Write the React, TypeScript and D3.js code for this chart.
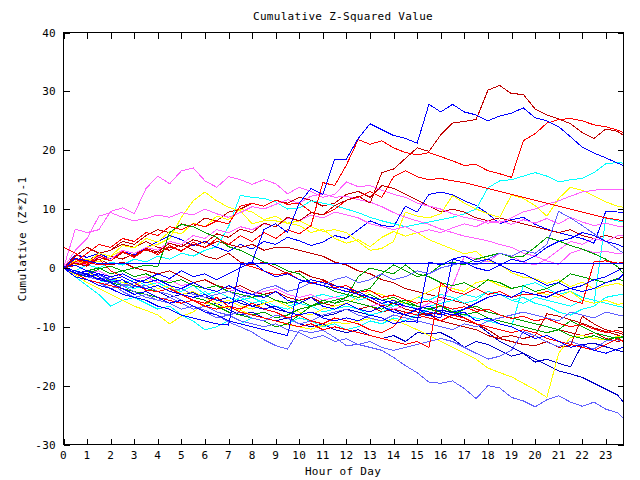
import React from "react";
import * as d3 from "d3";

const HOURS = [
  0, 0.5, 1, 1.5, 2, 2.5, 3, 3.5,
  4, 4.5, 5, 5.5, 6, 6.5, 7, 7.5,
  8, 8.5, 9, 9.5, 10, 10.5, 11, 11.5,
  12, 12.5, 13, 13.5, 14, 14.5, 15, 15.5,
  16, 16.5, 17, 17.5, 18, 18.5, 19, 19.5,
  20, 20.5, 21, 21.5, 22, 22.5, 23, 23.5,
  23.75,
];
const X_TICKS = d3.range(0, 24);
const Y_TICKS = [-30, -20, -10, 0, 10, 20, 30, 40];

const TITLE = "Cumulative Z-Squared Value";
const X_LABEL = "Hour of Day";
const Y_LABEL = "Cumulative (Z*Z)-1";

const S_CY2 = [0, -1, -2, -2.5, -2, -3, -3.5, -3, -4, -3.5, -4.5, -5, -4, -5.5, -6, -5, -6, -5.5, -6.5, -7, -6, -6.5, -7.5, -7, -6.5, -7, -8, -7.5, -6.5, -6, -5, -5.5, -4.5, -5, -6, -5.5, -4, -4.5, -5.5, -5, -6, -6.5, -7.5, -8, -7, -6.5, -5, -4.6, -4.5];
const S_CY3 = [0, -1.5, -3, -4.5, -6.5, -5.5, -5, -6, -7, -6.5, -8, -9, -10.5, -10, -9, -9.5, -8.5, -9, -10, -9.5, -8.5, -9, -10, -9.5, -10.5, -10, -9, -9.5, -8.5, -9, -8, -7, -6.5, -7, -8, -8.5, -9, -9.5, -10, -3, -2.5, -3.5, -4.5, -4, -5, -5.5, -6, -6.5, -6.7];
const S_CY4 = [0, -0.5, -1.5, -1, -2, -2.5, -2, -3, -2.5, -3.5, -4, -3, -4.5, -4, -5, -5.5, -5, -6, -5.5, -6.5, -6, -5, -4.5, -5, -4.5, -5.5, -5, -6, -6.5, -6, -7, -6.5, -6, -5.5, -4.5, -5, -4, -4.5, -5.5, -6, -5, -5.5, -6, -6.5, -5.5, -6, 8.5, 8, 7.8];
const S_CY1 = [0, -0.5, 0.5, 0, 1, 0.5, 1.5, 1, 2, 1.5, 2.5, 2, 3, 3.6, 7, 12.3, 12, 11.8, 11.2, 10, 10.2, 11.4, 11, 10.6, 10, 9.4, 8.6, 8, 7.5, 7, 7.4, 7.8, 8.2, 8.6, 9.2, 10, 13.6, 14.8, 15, 15.6, 16.2, 15.6, 14.6, 15, 15.2, 16.2, 17.7, 17.9, 17.8];
const S_Y1 = [0, 0.5, 1.5, 1, 2, 3, 2.5, 3.5, 4, 5, 8.6, 11.4, 12.9, 11.4, 10.3, 9.7, 7.5, 8, 8, 7.6, 8, 7, 6.2, 6.5, 6, 4.5, 3, 3.3, 4.5, 9.5, 8.8, 8.5, 9.2, 12.3, 11, 10, 9.2, 8.6, 12.4, 11.8, 10.6, 8.8, 11.8, 13.7, 13.2, 12.2, 11.2, 10.5, 10.3];
const S_Y2 = [0, 1.2, 0.8, 2.5, 2, 3.8, 3.4, 5, 4.4, 6.2, 5.8, 7.6, 7, 8.8, 8.2, 10, 9.5, 8.2, 8.8, 7.6, 7.2, 6, 6.6, 5, 4.2, 4.8, 3.6, 5.2, 6.2, 5.4, 6, 4.8, 4, 3.2, 2.4, 2.8, 1.2, 0.6, -0.8, -1.6, -1.8, -2.6, -2, -3.2, -2.4, -3.6, -3, -2.6, -3];
const S_Y4 = [0, -1, -0.5, -2, -1.5, -2.5, -3, -2, -3.5, -3, -4.5, -4, -5, -6, -5.5, -6.5, -7, -6, -5.5, -6.5, -7.5, -8, -7, -6.5, -6, -5, -4, -4.5, -5.5, -6, -5, -4, -3, -3.5, -4, -2.5, -2, -3, -3.5, -3, -4, -4.5, -5, -4, -5.5, -6, -5.5, -6.2, -6];
const S_L3 = [0, -1.2, -2.5, -3.5, -4.5, -5.5, -6.5, -7.2, -8, -9.5, -8.2, -7.5, -6, -6.4, -6.8, -7.2, -8, -8.5, -9, -9.6, -10, -10.4, -9.8, -9.2, -9.5, -9, -8.6, -9, -8.8, -9.6, -10.5, -11.5, -12.5, -13.5, -14.5, -15.5, -17, -17.8, -18.5, -19.6, -20.7, -22, -14.5, -11.8, -11.5, -12, -12.2, -11.6, -11.8];
const S_P1 = [0, 6.6, 6, 6.5, 9.6, 10.2, 9.2, 13.5, 15.6, 14.3, 16.5, 17, 14.8, 13.7, 15.5, 15, 14.2, 15, 14.3, 12.6, 13.7, 13, 12, 12.5, 14.6, 13.8, 14, 13.2, 12.5, 12, 11, 10.5, 10, 9.2, 8.6, 8.2, 7.6, 8, 7.4, 8.2, 7.6, 8.4, 7.5, 8.6, 7.8, 7.2, 7.6, 7.1, 7];
const S_P2 = [0, 1, 0.5, 2, 1.5, 3, 2.5, 3.5, 3, 4.5, 4, 5.5, 5, 6.5, 6, 7, 6.5, 7.5, 7, 8.5, 8, 9, 8.5, 9.5, 9, 8.5, 7.5, 7, 6.5, 7, 6, 6.5, 6, 6.8, 7.5, 7, 8, 7.6, 8.5, 9.5, 10, 10.8, 11.4, 12.2, 12.9, 13.2, 13.4, 13.4, 13.4];
const S_P3 = [0, 3, 5, 8.8, 9.4, 8.6, 8, 8.4, 9, 8.6, 9.4, 9, 10, 9.2, 8.6, 9.4, 10.4, 10, 10.8, 11.6, 11, 12.2, 12.6, 12, 12.2, 11.6, 11.2, 10.4, 9.4, 8.6, 8, 7.4, 6.6, 6, 5.4, 5, 4.6, 4, 3.5, 2.5, 2, 1.2, 0.6, 2.5, 3.2, 2.6, 2.8, 2.4, 2.6];
const S_P4 = [0, -0.5, -1, -0.5, -1.5, -1, -2, -1.5, -2.5, -2, -3, -2.5, -3.5, -3, -4, -3.5, -4.5, -4, -3.5, -4.5, -5, -4.5, -5.5, -5, -5.5, -6, -6.5, -6, -7, -6.5, -7, -6, -5.5, -3, 2, 1.5, 1, 2.5, 2, 1, 0.5, 1.5, 3, 4.5, 4, 5, 4.5, 5.5, 5.5];
const S_G1 = [0, -0.5, -1, -0.2, 0.3, -0.5, 0, 0.5, 0.2, 6, 7.4, 7, 6, 5.2, 3.6, 3, 2, 1, 0.5, -0.5, -1, -2.5, -3, -4, -4.5, -5, -4.5, -5.5, -5, -6, -6.5, -7, -6.5, -7.5, -8, -7.5, -8.5, -9, -9.5, -10, -10.5, -11, -10.5, -11.5, -12, -11.5, -12.2, -11.8, -11.7];
const S_G2 = [0, 0.5, -0.5, 0, -1, -0.5, -1.5, -1, -2, -2.5, -2, -3, -3.5, -3, -4, -4.5, -5, -4.5, -5.5, -6, -5.5, -6.5, -6, -5.5, -5, -4, -3.5, -1, 0.5, -0.5, -1.5, -1, 0.5, 1, 0.5, 1.5, 2, 2.5, 1.8, 2, 3.5, 5.2, 4.6, 3.8, 3.2, 2.4, 1.5, 0.2, -1];
const S_G3 = [0, -1, -1.5, -1, -2.5, -3, -2.5, -3.5, -4, -3.5, -4.5, -5, -5.5, -6.5, -7.5, -8, -8.5, -9, -10, -9.5, -8, -6.5, -5.5, -6, -5, -1.5, 0, -0.5, -1, 0.5, -1, -1.5, -2.5, -3, -2.5, -3.5, -2, -2.5, -3.5, -3, -4, -3.5, -2.5, -1, -1.5, -2, -2.5, -1.8, -2.2];
const S_G4 = [0, -0.5, -1.5, -2, -2.5, -3.5, -4, -4.5, -5, -5.5, -6, -5.5, -6.5, -7, -6.5, -7.5, -8, -7.5, -8.5, -8, -7, -6.5, -5.5, -6, -5.5, -6, -6.5, -7, -6, -5.5, -6.5, -7, -7.5, -8, -7, -6.5, -7.5, -8, -8.5, -9, -9.5, -10, -10.5, -9, -10, -11, -11.5, -12, -11.8];
const S_L1 = [0, -0.8, -1.5, -1.2, -2.2, -2.8, -3.2, -3, -4, -4.5, -5.5, -6.5, -7.2, -8, -9.2, -10, -10.9, -12.2, -13.2, -13.8, -10.6, -11, -10.6, -11.8, -13.2, -13, -13.5, -14, -15.2, -16.6, -17.8, -19.4, -19.6, -19.2, -20.5, -22.2, -20, -20.4, -22, -22.6, -23.6, -22.4, -21.7, -22.8, -23.5, -22.8, -24, -24.6, -25.6];
const S_PW2 = [0, -1.5, -2, -3, -2.5, -4, -5, -4.5, -5.5, -6, -7, -6.5, -7.5, -8.5, -8, -9, -9.5, -10, -9.5, -10.5, -11, -12, -11.5, -12.5, -12, -13, -12.5, -13.5, -14, -13.5, -13, -12.5, -12, -12.5, -13.5, -14.5, -15.5, -15, -14, -10.8, -11.5, -12.6, -13.4, -12.5, -13.2, -13.8, -12.4, -12.2, -12.5];
const S_PW3 = [0, -0.5, -1.5, -2, -1.5, -3, -2.5, -3.5, -3, -4, -3.5, -4.5, -5, -4.5, -4, -5, -4.5, -3.5, -3, -4, -3.5, -2.5, -3, -2, -1.5, -2.5, -2, -1, -2, -1.5, -0.5, -1, 0, 0.5, 1, 0.5, 1.5, 2.5, 2, 3, 2.5, 4, 9.6, 8.5, 7.2, 5.8, 4.5, 3.2, 2.5];
const S_PW4 = [0, -1, -2, -2.5, -3.5, -3, -4, -5, -5.5, -5, -6, -7, -6.5, -7.5, -8, -7.5, -8.5, -9, -8, -8.5, -9.5, -9, -8, -7.5, -7, -8, -8.5, -9, -8, -8.5, -9, -9.5, -10, -10.5, -9.5, -10, -9, -8.5, -8, -7.5, -8, -8.5, -9, -7.5, -8, -8.5, -7.5, -8, -8];
const S_DR2 = [0, 1, 0.5, 1.5, 0.5, 1, 0, -0.5, -1, -0.5, -1.5, -2.5, -2, -3, -3.5, -3, -4, -4.5, -4, -5, -5.5, -5, -6, -6.5, -6, -7, -6.5, -7.5, -7, -7.5, -8, -7.8, -7.8, -8.5, -9, -9.5, -10.5, -11.8, -11.5, -12, -11.5, -7.8, -8.2, -8.8, -9.4, -10.2, -10.8, -11.4, -11.8];
const S_DR3 = [0, 2, 3.5, 2.5, 3, 4, 3.5, 4.5, 3.5, 3, 4, 3, 2, 1.5, 2.5, 1, 0.5, 1, 0, -1, -0.5, -1.5, -2, -3, -3.5, -4.5, -5.5, -6.5, -6, -7, -7.5, -8, -9, -9.5, -10, -10.5, -11.5, -12, -12.5, -13, -13.2, -12.5, -13.5, -13.2, -8.2, -9.5, -10.5, -11, -11.3];
const S_DR4 = [0, 1.5, 1, 2.5, 3, 4.5, 4, 5.5, 6.5, 6, 7.5, 7, 8.5, 8, 9.5, 10, 11, 10.5, 11.5, 11, 12, 11.5, 10.5, 11, 12.5, 13, 12, 14, 13.5, 12.5, 11.5, 10.5, 9.5, 10, 9.5, 8.5, 8, 8.5, 8, 7.5, 7, 6.5, 6, 6.5, 5.5, 5, 5.5, 5, 5.2];
const S_DR5 = [0, 0.5, 1.5, 1, 2, 1.5, 2.5, 3, 2.5, 3.5, 3, 4, 3.5, 4.5, 4, 3.5, 4, 3, 3.5, 3.5, 3, 2.5, 2, 1, 0.5, -0.5, -1, -2, -2.5, -3.5, -4, -4.5, -5, -5.5, -6, -7, -7.5, -8, -8.5, -9, -9.5, -10, -10.5, -11, -11.5, -11, -12, -12.5, -12.3];
const S_R5 = [0, -1, -2, -2.5, -3, -3.5, -4.5, -4, -5, -5.5, -6, -5.5, -6.5, -7, -6.5, -7.5, -8, -8.5, -9, -9.5, -10, -9.5, -10.5, -10, -10.5, -11, -11.5, -12, -12.5, -13, -12.5, -13.5, -2.5, -4, -4.5, -3.5, -4.5, -4, -5, -4.5, -4.5, -4, -4.5, -5.5, -6, 1, 1.2, 0.8, 1];
const S_R6 = [3.5, 2.5, 1, 1.5, -0.5, -1.5, -2.5, -3.8, -4, -3.5, -4.5, -5.5, -6, -5, -6.5, -7, -6, -7, -7.5, -8.5, -8, -9, -9.5, -8.5, -9, -9.5, -10.5, -11, -10, -7.5, -8, -8.5, -9, -8, -8.5, -9.5, -10, -10.5, -11, -10.5, -11, -12, -12.5, -13, -13.5, -14, -13, -12, -12.5];
const S_RF = [0, 0.4, 1, 0.5, 0.7, 0.7, 0.7, 0.7, 0.7, 0.7, 0.7, 0.7, 0.7, 0.7, 0.7, 0.7, 0.2, -0.5, -1.2, -0.8, -2, -2.6, -2.2, -3.4, -3, -4.2, -3.8, -5, -4.6, -5.4, -6, -5.6, -6.4, -7, -6.6, -7.4, -7, -8, -8.6, -8.2, -9, -8.6, -9.4, -10, -9.6, -10.4, -11, -10.6, -11];
const S_D = [0, 1, 2.5, 4, 3.5, 5, 4.5, 6, 5.5, 7, 6.5, 7.5, 7, 8, 7.5, 10.5, 11, 10.5, 11.5, 10.8, 11, 9.5, 9, 10, 11.5, 12, 13, 12, 15.5, 16.5, 15.5, 15, 15.2, 14.8, 14.5, 14, 13.5, 13, 12.5, 12, 11.5, 11, 10.5, 10, 9.5, 9, 8.5, 8.2, 8];
const S_N2 = [0, -1.5, -2, -3, -3.5, -4.5, -5, -5.5, -6.5, -7, -8, -8.5, -9, -9.5, -9.7, 0.5, 1, -0.5, -1.5, -1, -2, -2.5, -3, -3.5, -4, -4.5, -5, -6, -5.5, -6.5, -7, -6.5, -7.5, -8, -7.5, -9, -8.5, -9.5, -10, -11, -12, -11.5, -12.5, -13.5, -13, -14, -14.5, -13.8, -13.5];
const S_N3 = [0, -0.5, -1, -2, -2.5, -3.5, -4.5, -4, -5, -6, -5.5, -6.5, -7.5, -8, -9, -9.5, -10, -10.5, -11, -11.5, -2.5, -2, -2.5, -3, -3.5, -4, -5, -5.5, -6, -6.5, -7, -7.5, -8, -7.5, -7, -6, -5, -4.5, -5, -4, -4.5, -5, -4, -3.5, -3, -2, -1.5, -0.5, 0];
const S_B2 = [0, -1, -0.5, -1.5, -2.5, -2, -3, -3.5, -3, -4, -4.5, -5, -4.5, -5.5, -6, -5.5, -6.5, -7, -6.5, -7.5, -8, -7.5, -8.5, -9, -8.5, -9, -8, -8.5, -9.5, -9, -9.2, 1, 0.5, 1.5, 1, 0, -0.5, 0.5, 1.5, 1, 2, 3.5, 4.5, 5, 6, 5.5, 4.5, 4, 3.5];
const S_B3 = [0, 0.5, -0.5, -1, -1.5, -1, -2, -2.5, -2, -3, -3.5, -2.5, -3.5, -4, -3, -4, -4.5, -5, -4, -5.5, -6, -5, -6.5, -7, -6, -7, -7.5, -6.5, -7.5, -8, -7, -8, -8.5, 1.5, 2, 1, 1.5, 0.5, -0.5, -1, -2, -3, -2.5, -3.5, -4, -3.5, -2.5, -2, -1];
const S_L2 = [0, -0.5, -1.2, -1.8, -2.4, -2, -3, -3.5, -3, -4, -4.5, -4.2, -5, -5.5, -5, -6, -6.5, -6, -7, -7.5, -8, -7.5, -8.2, -7.8, -7, -7.5, -8, -7.5, -7, -8, -8.5, -8, -7.2, -7.5, -8.5, -9.5, -11, -12.5, -13.5, -14.5, -15.5, -16.5, -17.5, -18, -18.6, -19.6, -20.6, -21.6, -22.8];
const S_L4 = [0, -1, -0.5, -1.5, -2.5, -2, -3.5, -3, -4, -5, -4.5, -5.5, -6.5, -6, -7, -8, -7.5, -8.5, -9, -8.5, -9.5, -10, -9.5, -10.5, -11, -10.5, -11.5, -12, -11.5, -12.5, -11, -11.2, -11, -12, -13.5, -12.5, -13, -14, -15, -14.5, -16, -15.5, -16.2, -16.8, -13, -12.8, -13.4, -14, -14.3];
const S_N1 = [0, 2.2, 1.8, 2.5, 1.5, 2.8, 2.2, 3.5, 4.5, 5.5, 4.8, 3.8, 4.5, 3.5, 2.8, 4, 3.2, 4.5, 4, 5.2, 4.6, 3.8, 4.4, 5.5, 5, 6.5, 8, 7.2, 7, 10.5, 9.5, 12.5, 12.9, 12.4, 11.4, 10.6, 9.2, 7.5, 8.2, 8.6, 7.4, 6.6, 6, 5.5, 5, 4.2, 9.6, 9.5, 9.3];
const S_B = [0, 0.8, 0.3, 1.8, 1.2, 2.6, 2, 3.3, 2.7, 4.2, 3.6, 4.8, 4.2, 5.8, 5.2, 6.6, 6, 7.6, 7, 8.6, 8, 9.4, 9, 10.6, 11.5, 12.2, 11, 16.2, 16.8, 18.6, 20.4, 19.8, 22.6, 24.6, 24.9, 25.2, 30.2, 31, 29.6, 29.5, 27, 26, 25.3, 24.5, 23, 22, 23.6, 23.2, 22.5];
const S_C = [0, 1.5, 0.6, 2.2, 1.2, 2.8, 1.8, 3.2, 2.2, 3.8, 2.8, 4.4, 3.4, 5, 4, 5.5, 4.5, 6, 5, 6.5, 5.8, 7.2, 14.5, 14, 17.5, 21.8, 21, 21.6, 20.4, 19.6, 19.2, 19.6, 18.9, 18.2, 17.4, 17.6, 16.5, 16, 15.4, 21.6, 22.8, 24.6, 25.2, 25.4, 25, 24.3, 24, 23.4, 23];
const S_A = [0, -0.8, -1.5, -1, -2, -1.5, -2.5, -2, -1, -1.8, -0.5, -1.5, -1, -2, -1, 0, 1, 6.5, 7.5, 6, 11, 13.5, 12.5, 18.5, 18.5, 22, 24.5, 23.5, 22.5, 22, 21.2, 27.8, 26.5, 27.8, 26.5, 26, 25, 25.8, 26.3, 27.2, 25.5, 25, 24, 22.3, 20.5, 19.5, 18.7, 17.8, 17.4];
const S_H = [0, 1.6, 1.2, 0.7, 0.7, 0.7, 0.7, 0.7, 0.7, 0.7, 0.7, 0.7, 0.7, 0.7, 0.7, 0.7, 0.7, 0.7, 0.7, 0.7, 0.7, 0.7, 0.7, 0.7, 0.7, 0.7, 0.7, 0.7, 0.7, 0.7, 0.7, 0.7, 0.7, 0.7, 0.7, 0.7, 0.7, 0.7, 0.7, 0.7, 0.7, 0.7, 0.7, 0.7, 0.7, 0.7, 0.7, 0.7, 0.7];

const SERIES = [
  S_L2, S_L4, S_N1, S_DR2, S_DR3, S_DR4, S_DR5,
  S_CY2, S_CY3, S_CY4, S_CY1, S_Y1, S_Y2, S_Y4, S_L3,
  S_P1, S_P2, S_P3, S_P4, S_G1, S_G2, S_G3, S_G4,
  S_L1, S_PW2, S_PW3, S_PW4,
  S_R5, S_R6, S_RF, S_D, S_N2, S_N3, S_B2, S_B3,
  S_B, S_C, S_A, S_H,
];

const PALETTE: Record<string, string> = {
  blue: "#0000ff",
  navy: "#0000c8",
  red: "#ff0000",
  darkred: "#c00000",
  green: "#00a000",
  cyan: "#00ffff",
  yellow: "#ffff00",
  pink: "#ff60ff",
  periwinkle: "#6060ff",
};
const SERIES_COLORS = [
  "navy", "navy", "blue", "darkred", "darkred", "darkred", "darkred",
  "cyan", "cyan", "cyan", "cyan", "yellow", "yellow", "yellow", "yellow",
  "pink", "pink", "pink", "pink", "green", "green", "green", "green",
  "periwinkle", "periwinkle", "periwinkle", "periwinkle",
  "red", "red", "red", "red", "blue", "blue", "blue", "blue",
  "darkred", "red", "blue", "blue",
];

export default function App() {
  const left = 63.5, right = 623.5, top = 32.5, bottom = 444.5;
  const x = d3.scaleLinear().domain([0, 23.75]).range([left, right]);
  const y = d3.scaleLinear().domain([-30, 40]).range([bottom, top]);
  const font = "'DejaVu Sans Mono', monospace";
  const tl = 6;

  const makeLine = (vals: number[]) =>
    d3.line<number>()
      .x((_, i) => x(HOURS[i]))
      .y((d) => y(d))(vals.slice(0, HOURS.length)) || "";

  return (
    <svg width={640} height={480} style={{ position: "absolute", left: 0, top: 0, background: "#fff" }}>
      <rect x={0} y={0} width={640} height={480} fill="#fff" />
      <g shapeRendering="crispEdges">
        {SERIES.map((s, i) => (
          <path key={i} d={makeLine(s)} fill="none" stroke={PALETTE[SERIES_COLORS[i]]} strokeWidth={1} />
        ))}
      </g>
      <g shapeRendering="crispEdges" stroke="#000" strokeWidth={1}>
        <rect x={left} y={top} width={right - left} height={bottom - top} fill="none" />
        {X_TICKS.map((t) => (
          <g key={"x" + t}>
            <line x1={Math.round(x(t)) + 0.5} x2={Math.round(x(t)) + 0.5} y1={bottom} y2={bottom - tl} />
            <line x1={Math.round(x(t)) + 0.5} x2={Math.round(x(t)) + 0.5} y1={top} y2={top + tl} />
          </g>
        ))}
        {Y_TICKS.map((t) => (
          <g key={"y" + t}>
            <line x1={left} x2={left + tl} y1={Math.round(y(t)) + 0.5} y2={Math.round(y(t)) + 0.5} />
            <line x1={right} x2={right - tl} y1={Math.round(y(t)) + 0.5} y2={Math.round(y(t)) + 0.5} />
          </g>
        ))}
      </g>
      <g fontFamily={font} fontSize={11} fill="#000" letterSpacing={0.3}>
        <text x={343} y={20} textAnchor="middle">{TITLE}</text>
        {X_TICKS.map((t) => (
          <text key={"xl" + t} x={x(t)} y={459} textAnchor="middle">{String(t)}</text>
        ))}
        {Y_TICKS.map((t) => (
          <text key={"yl" + t} x={56} y={y(t) + 4} textAnchor="end">{String(t)}</text>
        ))}
        <text x={343} y={475} textAnchor="middle">{X_LABEL}</text>
        <text transform={`translate(26,239) rotate(-90)`} textAnchor="middle">{Y_LABEL}</text>
      </g>
    </svg>
  );
}
